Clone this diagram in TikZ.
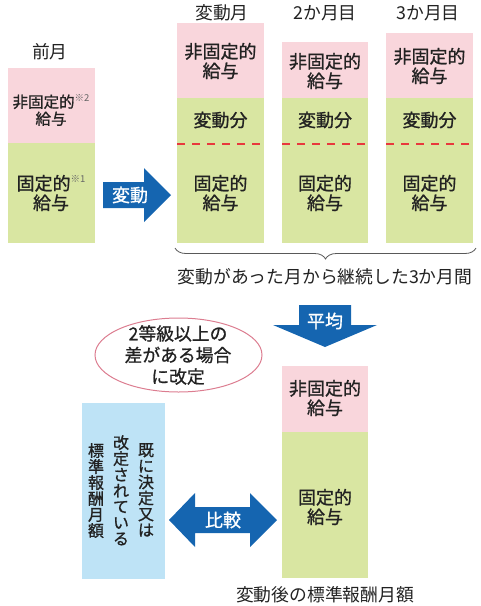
\documentclass[tikz,border=0pt]{standalone}
\usepackage{fontspec}
\setmainfont{Noto Sans CJK JP}
\newfontfamily\jpb{Noto Sans CJK JP}[FakeBold=1]
\usetikzlibrary{decorations.pathreplacing}
\definecolor{pk}{HTML}{F9D6DC}
\definecolor{gr}{HTML}{D9E6A2}
\definecolor{lb}{HTML}{BEE3F6}
\definecolor{ab}{HTML}{1565B0}
\definecolor{rd}{HTML}{E8383D}
\definecolor{el}{HTML}{DC7D90}
\definecolor{tx}{HTML}{222222}
\tikzset{
  lbl/.style={font=\fontsize{17.8}{20}\selectfont, text=tx, inner sep=0pt},
  bt/.style={font=\jpb\fontsize{18}{19.5}\selectfont, text=tx, align=center, inner sep=0pt},
  wt/.style={font=\jpb\fontsize{18}{20}\selectfont, text=white, inner sep=0pt},
  vt/.style={font=\jpb\fontsize{16}{16}\selectfont, text=tx, align=center, inner sep=0pt, anchor=north},
  reddash/.style={draw=rd, line width=2.4pt, dash pattern=on 8pt off 7pt},
  blockarrow/.style={fill=ab},
}
\newcommand{\mynote}[1]{\raisebox{0.42em}{\fontspec{Noto Sans CJK JP}\fontsize{9.5}{10}\selectfont\color{gray!80!black}#1}}
\begin{document}
\begin{tikzpicture}[x=1pt,y=-1pt]
\useasboundingbox (0,0) rectangle (480,606);
% left column
\node[lbl] (lprev) at (50,52) {前月};
\fill[pk] (8,68) rectangle (95,143);
\fill[gr] (8,143) rectangle (95,243);
\node[bt, font=\jpb\fontsize{15.5}{17}\selectfont] (lnf) at (51,110) {非固定的\mynote{※2}\\給与};
\node[bt] (lf) at (51,193) {固定的\mynote{※1}\\給与};
% arrow 変動
\fill[blockarrow] (103,182) -- (144,182) -- (144,168) -- (171,195) -- (144,222) -- (144,208) -- (103,208) -- cycle;
\node[wt] (ahendo) at (130,195) {変動};
% three columns
\node[lbl] (c1l) at (222,13) {変動月};
\node[lbl] (c2l) at (325,13) {2か月目};
\node[lbl] (c3l) at (428,13) {3か月目};
\fill[pk] (177,23) rectangle (264,98);
\fill[pk] (282,42) rectangle (368,98);
\fill[pk] (386,33) rectangle (473,98);
\fill[gr] (177,98) rectangle (264,243);
\fill[gr] (282,98) rectangle (368,243);
\fill[gr] (386,98) rectangle (473,243);
\node[bt] (c1nf) at (220.5,61) {非固定的\\給与};
\node[bt] (c2nf) at (325,71) {非固定的\\給与};
\node[bt] (c3nf) at (429.5,66) {非固定的\\給与};
\node[bt] (c1v) at (220.5,120) {変動分};
\node[bt] (c2v) at (325,120) {変動分};
\node[bt] (c3v) at (429.5,120) {変動分};
\draw[reddash] (177,144) -- (264,144);
\draw[reddash] (282,144) -- (368,144);
\draw[reddash] (386,144) -- (473,144);
\node[bt] (c1f) at (220.5,193) {固定的\\給与};
\node[bt] (c2f) at (325,193) {固定的\\給与};
\node[bt] (c3f) at (429.5,193) {固定的\\給与};
% brace
\coordinate (brl) at (175,248);
\coordinate (brr) at (476,248);
\draw[gray!70!black, line width=0.8pt, decorate, decoration={brace, amplitude=11pt, mirror}] (brl) -- (brr);
\node[lbl] (period) at (325,277) {変動があった月から継続した3か月間};
% arrow 平均
\fill[blockarrow] (299,305) -- (351,305) -- (351,325) -- (377,325) -- (325,347) -- (273,325) -- (299,325) -- cycle;
\node[wt] (aheikin) at (325,321) {平均};
% ellipse
\draw[el, line width=1pt] (178.5,355) ellipse [x radius=83.5, y radius=37];
\node[bt, font=\jpb\fontsize{17.8}{21.5}\selectfont] (cond) at (178,355) {2等級以上の\\差がある場合\\に改定};
% result column
\fill[pk] (282,366) rectangle (368,432);
\fill[gr] (282,432) rectangle (368,578);
\node[bt] (rnf) at (325,398) {非固定的\\給与};
\node[bt] (rf) at (325,507) {固定的\\給与};
\node[lbl] (rlabel) at (325,595) {変動後の標準報酬月額};
% blue box
\fill[lb] (82,403) rectangle (165,579);
\node[vt] (v1) at (146,443) {既\\に\\決\\定\\又\\は};
\node[vt] (v2) at (121,435) {改\\定\\さ\\れ\\て\\い\\る};
\node[vt] (v3) at (96,443) {標\\準\\報\\酬\\月\\額};
% double arrow 比較
\fill[blockarrow] (169,520) -- (195,493) -- (195,507) -- (250,507) -- (250,493) -- (277,520) -- (250,547) -- (250,533) -- (195,533) -- (195,547) -- cycle;
\node[wt] (ahikaku) at (223,520) {比較};
\end{tikzpicture}
\end{document}
